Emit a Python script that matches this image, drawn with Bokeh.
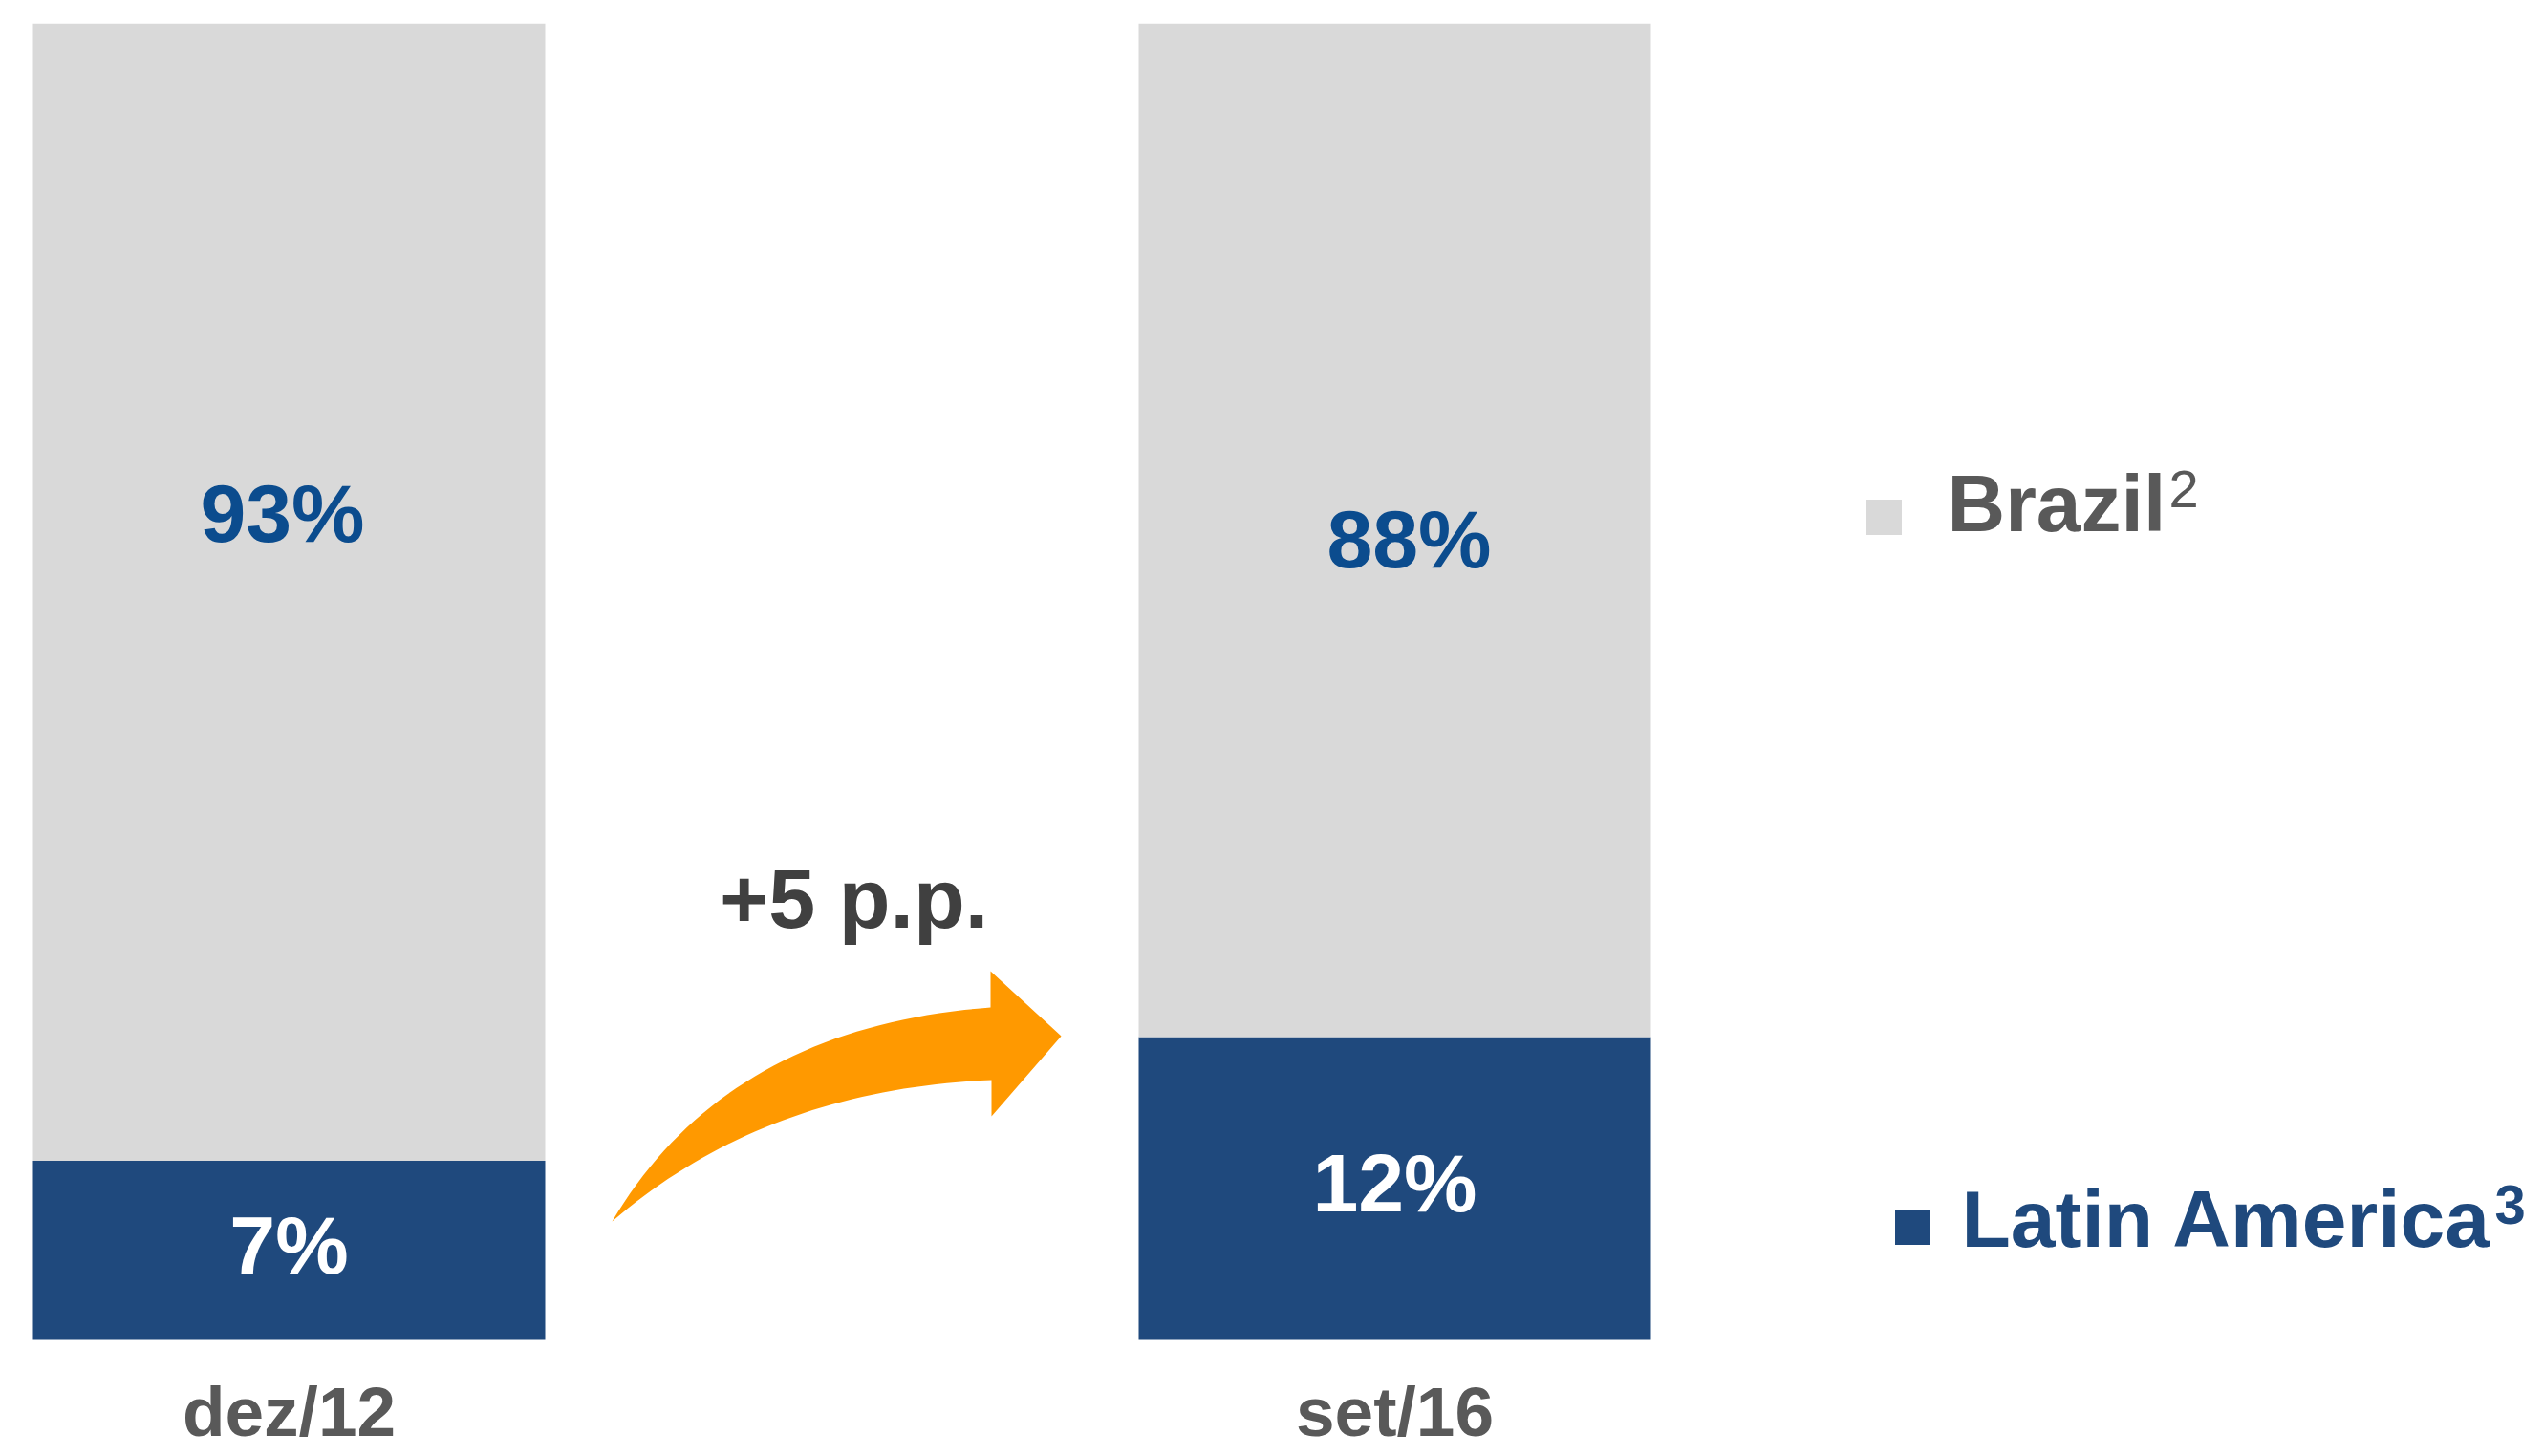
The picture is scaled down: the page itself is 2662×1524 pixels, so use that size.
from bokeh.plotting import figure
from bokeh.models import ColumnDataSource, Range1d
from bokeh.core.properties import value
from bokeh.embed import file_html
from bokeh.resources import INLINE

# ---- data ----
periods = ["dez/12", "set/16"]
latam_height = [13.6, 23.0]      # visual height of the Latin America segment (share of bar)
brazil_height = [86.4, 77.0]     # visual height of the Brazil segment
latam_labels = ["7%", "12%"]
brazil_labels = ["93%", "88%"]
series_names = ["Brazil", "Latin America"]
series_notes = ["2", "3"]
change_label = "+5 p.p."

GRAY = "#D9D9D9"
BLUE = "#1F497D"
LABEL_BLUE = "#0B4C8E"
ORANGE = "#FF9900"
FONT = value("Liberation Sans")

W, H = 2662, 1524
TOP = 24
BASE = 1402       # px of the bars' baseline
UNIT = 1157.0     # px between the two bar centres
X0 = 302.0        # px of first bar centre
PPU = (BASE - TOP) / 100.0   # px per percent
MID_FIX = 6       # rendered "middle" text sits this many px below its anchor


def dx(px):
    return (px - X0) / UNIT


def dy(py):
    return (BASE - py) / PPU


def dym(py):
    return dy(py - MID_FIX)


xs = [0.0, 1.0]
src = ColumnDataSource(dict(x=xs, latam=latam_height, brazil=brazil_height))

p = figure(width=W, height=H, output_backend="svg", toolbar_location=None,
           x_range=Range1d(dx(0), dx(W)), y_range=Range1d(dy(H), 100),
           min_border_left=0, min_border_right=0,
           min_border_top=TOP, min_border_bottom=0)
p.outline_line_color = None
p.grid.visible = False
p.xaxis.visible = False
p.yaxis.visible = False
p.background_fill_color = "white"
p.border_fill_color = "white"

p.vbar_stack(["latam", "brazil"], x="x", width=536 / UNIT, color=[BLUE, GRAY],
             line_color=None, source=src)

# category labels
p.text(x=xs, y=[dym(1483)] * 2, text=periods, text_font=FONT, text_font_size="73px",
       text_font_style="bold", text_color="#595959", text_align="center",
       text_baseline="middle")

# segment labels
latam_mid = [h / 2 for h in latam_height]
p.text(x=xs, y=[m + MID_FIX / PPU for m in latam_mid], text=latam_labels, text_font=FONT,
       text_font_size="86px", text_font_style="bold", text_color="white",
       text_align="center", text_baseline="middle")
p.text(x=[dx(295), dx(1474)], y=[dym(542), dym(569)], text=brazil_labels, text_font=FONT,
       text_font_size="86px", text_font_style="bold", text_color=LABEL_BLUE,
       text_align="center", text_baseline="middle")

# change annotation
p.text(x=[dx(893)], y=[dym(946)], text=[change_label], text_font=FONT,
       text_font_size="88px", text_font_style="bold", text_color="#404040",
       text_align="center", text_baseline="middle")


def qbez(p0, p1, p2, n=40):
    pts = []
    for i in range(n + 1):
        t = i / n
        a, b, c = (1 - t) ** 2, 2 * (1 - t) * t, t * t
        pts.append((a * p0[0] + b * p1[0] + c * p2[0], a * p0[1] + b * p1[1] + c * p2[1]))
    return pts


tail = (640, 1278)
upper = qbez(tail, (760, 1075), (1036, 1054))
lower = qbez(tail, (800, 1140), (1037, 1130))
head = [(1036, 1016), (1110, 1084), (1037, 1168)]
outline = upper + head + lower[::-1]
p.patch([dx(a) for a, b in outline], [dy(b) for a, b in outline],
        fill_color=ORANGE, line_color=None)

# legend-like labels
p.scatter(x=[dx(1971)], y=[dy(541)], marker="square", size=37, fill_color=GRAY, line_color=None)
p.scatter(x=[dx(2001)], y=[dy(1284)], marker="square", size=37, fill_color=BLUE, line_color=None)
p.text(x=[dx(2037)], y=[dym(532)], text=[series_names[0]], text_font=FONT,
       text_font_size="84px", text_font_style="bold", text_color="#595959",
       text_align="left", text_baseline="middle")
p.text(x=[dx(2269)], y=[dym(517)], text=[series_notes[0]], text_font=FONT,
       text_font_size="56px", text_color="#595959",
       text_align="left", text_baseline="middle")
p.text(x=[dx(2052)], y=[dym(1281)], text=[series_names[1]], text_font=FONT,
       text_font_size="84px", text_font_style="bold", text_color=BLUE,
       text_align="left", text_baseline="middle")
p.text(x=[dx(2610)], y=[dym(1266)], text=[series_notes[1]], text_font=FONT,
       text_font_size="58px", text_font_style="bold", text_color=BLUE,
       text_align="left", text_baseline="middle")

open("out.html", "w").write(file_html(p, INLINE))
